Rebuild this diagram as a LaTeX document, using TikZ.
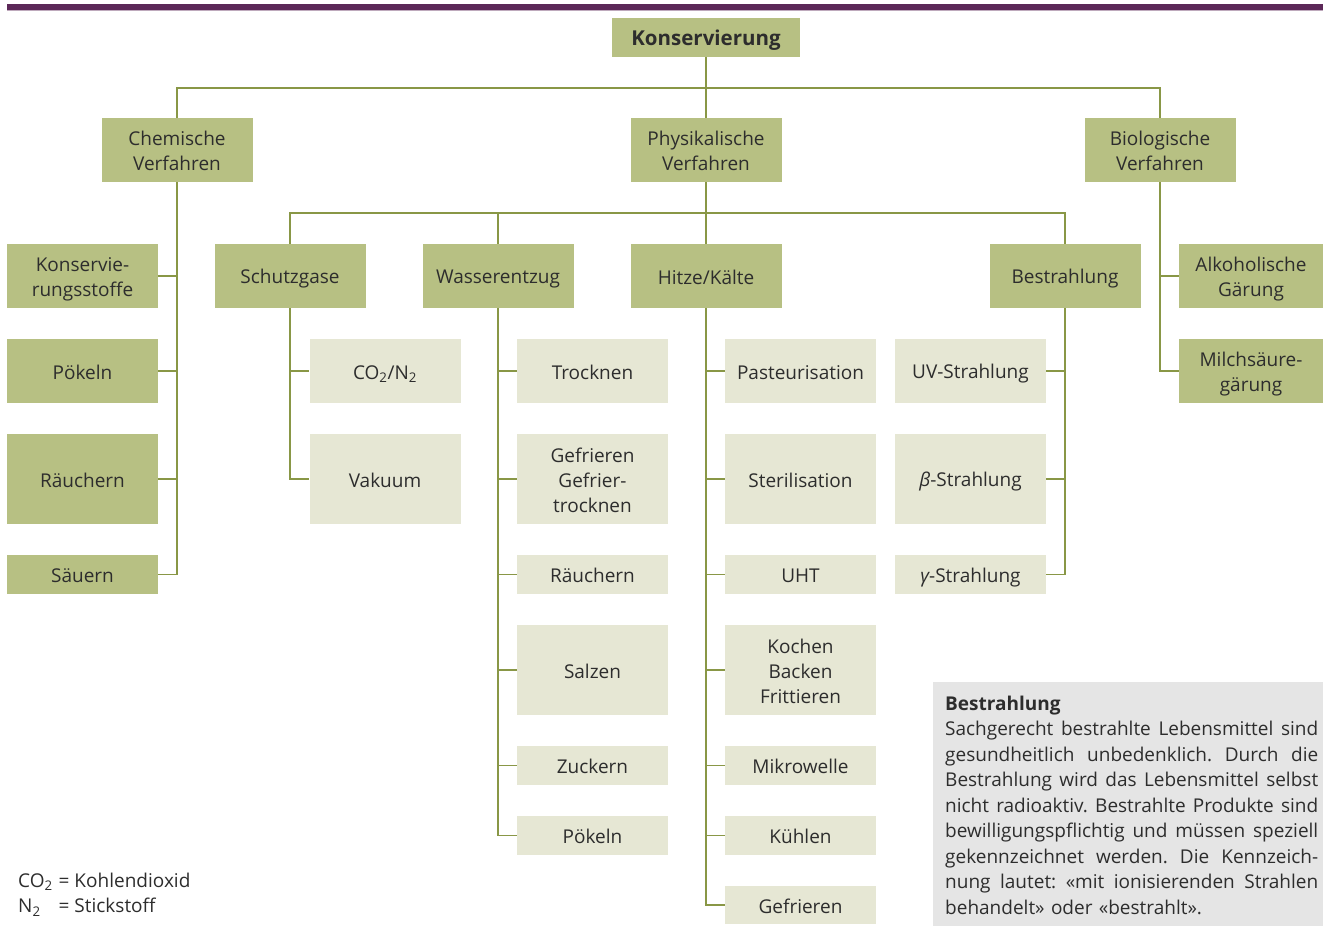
\documentclass[tikz,border=0pt]{standalone}
\usepackage{fontspec}
\setmainfont{Open Sans}
\usetikzlibrary{calc}

\definecolor{kgreen}{RGB}{183,192,131}
\definecolor{klight}{RGB}{230,231,212}
\definecolor{kline}{RGB}{137,151,70}
\definecolor{kpurple}{RGB}{92,40,88}
\definecolor{kgray}{RGB}{229,229,229}
\definecolor{ktext}{RGB}{45,45,45}

\newcommand{\kstrut}{\rule[-4pt]{0pt}{24pt}}
\newcommand{\kz}{\kstrut\\}
\newcommand{\kzeile}[1]{\leavevmode\hbox to 373pt{\spaceskip=\fontdimen2\font plus 1fil\relax #1}}

\begin{document}
\begin{tikzpicture}[x=1pt,y=-1pt,
        every node/.style={font=\fontsize{19}{25}\selectfont, text=ktext, align=center, inner sep=0pt},
        kasten/.style={execute at begin node=\kstrut, execute at end node=\kstrut},
        hauptbox/.style={kasten, fill=kgreen, minimum width=151, minimum height=#1},
        hauptbox/.default=64,
        unterbox/.style={kasten, fill=klight, minimum width=151, minimum height=#1},
        unterbox/.default=64,
        ast/.style={draw=kline, line width=1.6pt}]
        \useasboundingbox (0,0) rectangle (1323,926);

        \fill[kpurple] (7,4) rectangle (1323,9.5);
        \fill[kpurple!40] (7,9.5) rectangle (1323,10.5);

        \node[hauptbox=39, minimum width=188, font=\bfseries\fontsize{20.5}{25}\selectfont] (kons) at (706,37.5) {Konservierung};
        \node[hauptbox] (chem) at (177,150) {Chemische\kz Verfahren};
        \node[hauptbox] (phys) at (706,150) {Physikalische\kz Verfahren};
        \node[hauptbox] (bio) at (1160,150) {Biologische\kz Verfahren};

        \node[hauptbox] (konstoff) at (82.5,276) {Konservie-\kz rungsstoffe};
        \node[hauptbox] (poekeln) at (82.5,371) {Pökeln};
        \node[hauptbox=90] (raeuchern) at (82.5,479) {Räuchern};
        \node[hauptbox=39] (saeuern) at (82.5,574.5) {Säuern};

        \node[hauptbox] (schutz) at (290,276) {Schutzgase};
        \node[hauptbox] (wasser) at (498,276) {Wasserentzug};
        \node[hauptbox] (hitze) at (706,276) {Hitze/Kälte};
        \node[hauptbox] (bestr) at (1065,276) {Bestrahlung};

        \node[hauptbox, minimum width=144] (alkohol) at (1251,276) {Alkoholische\kz Gärung};
        \node[hauptbox, minimum width=144] (milch) at (1251,371) {Milchsäure-\kz gärung};

        \node[unterbox] (gas) at (385,371) {CO\textsubscript{2}/N\textsubscript{2}};
        \node[unterbox=90] (vakuum) at (385,479) {Vakuum};

        \node[unterbox] (trocknen) at (592.5,371) {Trocknen};
        \node[unterbox=90] (gefrtr) at (592.5,479) {Gefrieren\kz Gefrier-\kz trocknen};
        \node[unterbox=39] (raeuchern2) at (592.5,574.5) {Räuchern};
        \node[unterbox=90] (salzen) at (592.5,670) {Salzen};
        \node[unterbox=39] (zuckern) at (592.5,765.5) {Zuckern};
        \node[unterbox=39] (poekeln2) at (592.5,835.5) {Pökeln};

        \node[unterbox] (pasteur) at (800.5,371) {Pasteurisation};
        \node[unterbox=90] (steril) at (800.5,479) {Sterilisation};
        \node[unterbox=39] (uht) at (800.5,574.5) {UHT};
        \node[unterbox=90] (kochen) at (800.5,670) {Kochen\kz Backen\kz Frittieren};
        \node[unterbox=39] (mikro) at (800.5,765.5) {Mikrowelle};
        \node[unterbox=39] (kuehlen) at (800.5,835.5) {Kühlen};
        \node[unterbox=38] (gefrieren) at (800.5,905) {Gefrieren};

        \node[unterbox] (uv) at (970.5,371) {UV-Strahlung};
        \node[unterbox=90] (beta) at (970.5,479) {{\itshape β}-Strahlung};
        \node[unterbox=39] (gamma) at (970.5,574.5) {{\itshape γ}-Strahlung};

        \draw[ast] (kons.south) -- (phys.north);
        \draw[ast] (chem.north) -- ++(0,-30) -| (bio.north);
        \draw[ast] (phys.south) -- (hitze.north);
        \draw[ast] (schutz.north) -- ++(0,-31) -| (bestr.north);
        \draw[ast] (wasser.north) -- ++(0,-31);

        \foreach \k in {konstoff,poekeln,raeuchern,saeuern}
            \draw[ast] (chem.south) |- (\k.east);
        \foreach \k in {gas,vakuum}
            \draw[ast] (schutz.south) |- (\k.west);
        \foreach \k in {trocknen,gefrtr,raeuchern2,salzen,zuckern,poekeln2}
            \draw[ast] (wasser.south) |- (\k.west);
        \foreach \k in {pasteur,steril,uht,kochen,mikro,kuehlen,gefrieren}
            \draw[ast] (hitze.south) |- (\k.west);
        \foreach \k in {uv,beta,gamma}
            \draw[ast] (bestr.south) |- (\k.east);
        \foreach \k in {alkohol,milch}
            \draw[ast] (bio.south) |- (\k.west);

        \node[fill=kgray, minimum width=390, minimum height=244, anchor=north west] (infobox) at (933,682) {};
        \node[anchor=base west, text width=373pt, align=left, font=\fontsize{19}{25.5}\selectfont\frenchspacing] (infotext) at (945,710)
            {\textbf{Bestrahlung}\\
             \kzeile{Sachgerecht bestrahlte Lebensmittel sind}\\
             \kzeile{gesundheitlich unbedenklich. Durch die}\\
             \kzeile{Bestrahlung wird das Lebensmittel selbst}\\
             \kzeile{nicht radioaktiv. Bestrahlte Produkte sind}\\
             \kzeile{bewilligungspflichtig und müssen speziell}\\
             \kzeile{gekennzeichnet werden. Die Kennzeich-}\\
             \kzeile{nung lautet: «mit ionisierenden Strahlen}\\
             behandelt» oder «bestrahlt».};

        \node[anchor=base west, font=\fontsize{19}{25.5}\selectfont] (legende) at (18,887)
            {\begin{tabular}[t]{@{}l@{\hspace{6pt}}l@{}}
             CO\textsubscript{2} & = Kohlendioxid\\
             N\textsubscript{2} & = Stickstoff
             \end{tabular}};
    \end{tikzpicture}
\end{document}
